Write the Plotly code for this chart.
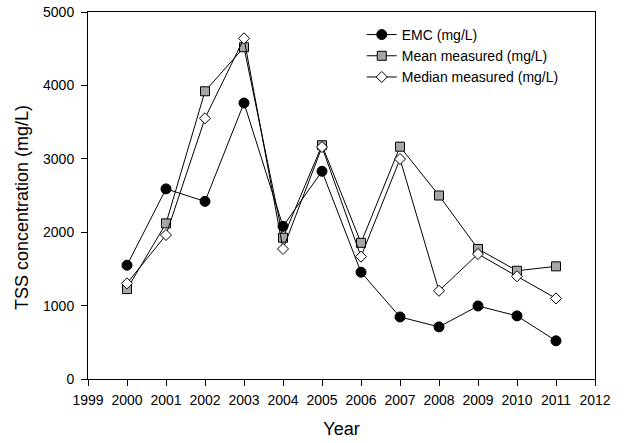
import plotly.graph_objects as go

years = [2000, 2001, 2002, 2003, 2004, 2005, 2006, 2007, 2008, 2009, 2010, 2011]
emc = [1550, 2590, 2420, 3760, 2080, 2830, 1455, 845, 710, 995, 860, 520]
mean_measured = [1225, 2120, 3920, 4520, 1925, 3185, 1855, 3165, 2500, 1772, 1475, 1535]
median_measured = [1303, 1962, 3552, 4641, 1772, 3160, 1667, 2997, 1202, 1703, 1399, 1098]

x_ticks = list(range(1999, 2013))
y_ticks = [0, 1000, 2000, 3000, 4000, 5000]

font_family = "Liberation Sans, Arial, sans-serif"

fig = go.Figure()
fig.add_trace(go.Scatter(
    x=years, y=emc, name="EMC (mg/L)", mode="lines+markers",
    line=dict(color="black", width=1),
    marker=dict(symbol="circle", size=10, color="black", line=dict(color="black", width=1)),
))
fig.add_trace(go.Scatter(
    x=years, y=mean_measured, name="Mean measured (mg/L)", mode="lines+markers",
    line=dict(color="black", width=1),
    marker=dict(symbol="square", size=9, color="#a6a6a6", line=dict(color="black", width=1)),
))
fig.add_trace(go.Scatter(
    x=years, y=median_measured, name="Median measured (mg/L)", mode="lines+markers",
    line=dict(color="black", width=1),
    marker=dict(symbol="diamond", size=8.5, color="white", line=dict(color="black", width=1)),
))

fig.update_layout(
    width=624, height=443,
    margin=dict(l=88, r=29, t=12, b=64, autoexpand=False),
    paper_bgcolor="white", plot_bgcolor="white",
    font=dict(family=font_family, color="black", size=14),
    showlegend=True,
    legend=dict(
        x=0.540, y=0.981, xanchor="left", yanchor="top",
        bgcolor="rgba(0,0,0,0)", font=dict(size=14),
        tracegroupgap=0, itemwidth=30,
    ),
    # y-axis title set slightly below the plot's vertical centre
    annotations=[dict(
        text="TSS concentration (mg/L)", textangle=-90,
        xref="paper", yref="paper", x=-0.13, y=0.466,
        xanchor="center", yanchor="middle", showarrow=False,
        font=dict(size=18),
    )],
)
fig.update_xaxes(
    range=[1999, 2012], tickvals=x_ticks, ticktext=[str(t) for t in x_ticks],
    showline=True, linecolor="black", linewidth=1, mirror=True,
    ticks="outside", ticklen=6, tickcolor="black", showgrid=False, zeroline=False,
    tickfont=dict(size=14), ticklabelstandoff=2, automargin=False,
    title=dict(text="Year", font=dict(size=18), standoff=15),
)
fig.update_yaxes(
    range=[0, 5000], tickvals=y_ticks,
    showline=True, linecolor="black", linewidth=1, mirror=True,
    ticks="outside", ticklen=6, tickcolor="black", showgrid=False, zeroline=False,
    tickfont=dict(size=14), ticklabelstandoff=4, automargin=False,
)

fig.write_html("out.html")
